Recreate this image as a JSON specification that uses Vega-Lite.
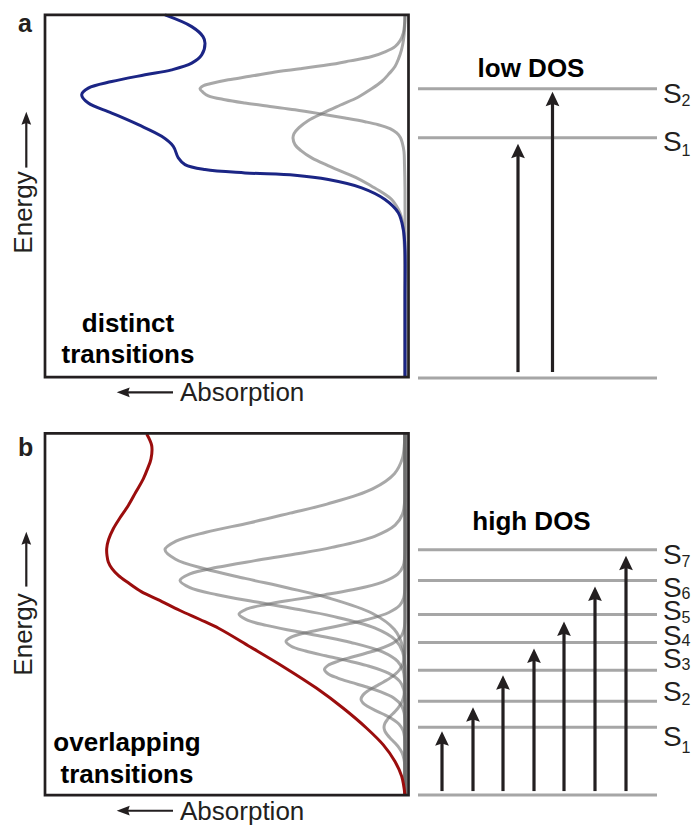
{
  "$schema": "https://vega.github.io/schema/vega-lite/v6.json",
  "width": 691,
  "height": 825,
  "autosize": {"type": "fit", "contains": "padding"},
  "padding": 0,
  "background": "white",
  "config": {"view": {"stroke": null}},
  "datasets": {
    "curves": [
      {"c":"sum_a","i":0,"x":165,"y":15},{"c":"sum_a","i":1,"x":191.7,"y":26.7},{"c":"sum_a","i":2,"x":203,"y":36.7},{"c":"sum_a","i":3,"x":205,"y":43.3},{"c":"sum_a","i":4,"x":201.7,"y":55},{"c":"sum_a","i":5,"x":191.7,"y":63.3},{"c":"sum_a","i":6,"x":171.7,"y":70},{"c":"sum_a","i":7,"x":145,"y":75},{"c":"sum_a","i":8,"x":111.7,"y":81.7},{"c":"sum_a","i":9,"x":88.3,"y":88.3},{"c":"sum_a","i":10,"x":81.7,"y":95},{"c":"sum_a","i":11,"x":88.3,"y":103.3},{"c":"sum_a","i":12,"x":111.7,"y":113.3},{"c":"sum_a","i":13,"x":138.3,"y":125},{"c":"sum_a","i":14,"x":161.7,"y":136.7},{"c":"sum_a","i":15,"x":173.3,"y":146.7},{"c":"sum_a","i":16,"x":178.3,"y":158.3},{"c":"sum_a","i":17,"x":185,"y":165},{"c":"sum_a","i":18,"x":205,"y":170},{"c":"sum_a","i":19,"x":245,"y":173.3},{"c":"sum_a","i":20,"x":295,"y":175.7},{"c":"sum_a","i":21,"x":328.3,"y":180},{"c":"sum_a","i":22,"x":361.7,"y":188.3},{"c":"sum_a","i":23,"x":385,"y":200},{"c":"sum_a","i":24,"x":398.3,"y":213.3},{"c":"sum_a","i":25,"x":403.3,"y":230},{"c":"sum_a","i":26,"x":405,"y":250},{"c":"sum_a","i":27,"x":405,"y":300},{"c":"sum_a","i":28,"x":405,"y":378},

      {"c":"a_S2","i":0,"x":405,"y":15},{"c":"a_S2","i":1,"x":404.5,"y":25},{"c":"a_S2","i":2,"x":403.3,"y":33.3},{"c":"a_S2","i":3,"x":400,"y":41},{"c":"a_S2","i":4,"x":395,"y":46.7},{"c":"a_S2","i":5,"x":385,"y":52},{"c":"a_S2","i":6,"x":371.7,"y":56.7},{"c":"a_S2","i":7,"x":350,"y":61},{"c":"a_S2","i":8,"x":328.3,"y":65},{"c":"a_S2","i":9,"x":300,"y":69},{"c":"a_S2","i":10,"x":278.3,"y":71.7},{"c":"a_S2","i":11,"x":250,"y":76.5},{"c":"a_S2","i":12,"x":228.3,"y":80},{"c":"a_S2","i":13,"x":210,"y":84},{"c":"a_S2","i":14,"x":203.3,"y":86},{"c":"a_S2","i":15,"x":200,"y":89},{"c":"a_S2","i":16,"x":203,"y":92.5},{"c":"a_S2","i":17,"x":208.3,"y":96},{"c":"a_S2","i":18,"x":225,"y":100},{"c":"a_S2","i":19,"x":245,"y":103.3},{"c":"a_S2","i":20,"x":270,"y":106.7},{"c":"a_S2","i":21,"x":295,"y":110},{"c":"a_S2","i":22,"x":320,"y":114},{"c":"a_S2","i":23,"x":345,"y":118.3},{"c":"a_S2","i":24,"x":365,"y":122},{"c":"a_S2","i":25,"x":378.3,"y":125},{"c":"a_S2","i":26,"x":390,"y":129},{"c":"a_S2","i":27,"x":396.7,"y":133.3},{"c":"a_S2","i":28,"x":400.5,"y":138},{"c":"a_S2","i":29,"x":402.3,"y":143.3},{"c":"a_S2","i":30,"x":404,"y":152},{"c":"a_S2","i":31,"x":404.5,"y":165},{"c":"a_S2","i":32,"x":405,"y":190},{"c":"a_S2","i":33,"x":405,"y":378},

      {"c":"a_S1","i":0,"x":405,"y":15},{"c":"a_S1","i":1,"x":404.6,"y":28},{"c":"a_S1","i":2,"x":403.5,"y":40},{"c":"a_S1","i":3,"x":401.5,"y":50},{"c":"a_S1","i":4,"x":398.5,"y":59},{"c":"a_S1","i":5,"x":395,"y":66.7},{"c":"a_S1","i":6,"x":389,"y":74},{"c":"a_S1","i":7,"x":381.7,"y":81.7},{"c":"a_S1","i":8,"x":370,"y":90},{"c":"a_S1","i":9,"x":358,"y":97.5},{"c":"a_S1","i":10,"x":340,"y":105.5},{"c":"a_S1","i":11,"x":323,"y":113.3},{"c":"a_S1","i":12,"x":308,"y":121},{"c":"a_S1","i":13,"x":299,"y":128},{"c":"a_S1","i":14,"x":294,"y":134},{"c":"a_S1","i":15,"x":293,"y":138.5},{"c":"a_S1","i":16,"x":295,"y":145},{"c":"a_S1","i":17,"x":301,"y":151},{"c":"a_S1","i":18,"x":311.7,"y":158.3},{"c":"a_S1","i":19,"x":328,"y":166},{"c":"a_S1","i":20,"x":345,"y":173.3},{"c":"a_S1","i":21,"x":360,"y":180},{"c":"a_S1","i":22,"x":371.7,"y":186.7},{"c":"a_S1","i":23,"x":383,"y":193.5},{"c":"a_S1","i":24,"x":391.7,"y":200},{"c":"a_S1","i":25,"x":396.5,"y":206.5},{"c":"a_S1","i":26,"x":400,"y":213.3},{"c":"a_S1","i":27,"x":402.2,"y":221},{"c":"a_S1","i":28,"x":403.3,"y":230},{"c":"a_S1","i":29,"x":404.3,"y":245},{"c":"a_S1","i":30,"x":404.8,"y":265},{"c":"a_S1","i":31,"x":405,"y":300},{"c":"a_S1","i":32,"x":405,"y":378},

      {"c":"sum_b","i":0,"x":146.7,"y":435},{"c":"sum_b","i":1,"x":151.7,"y":446.7},{"c":"sum_b","i":2,"x":151,"y":460},{"c":"sum_b","i":3,"x":147.5,"y":470},{"c":"sum_b","i":4,"x":143.3,"y":480},{"c":"sum_b","i":5,"x":136,"y":493},{"c":"sum_b","i":6,"x":128.3,"y":506.7},{"c":"sum_b","i":7,"x":120,"y":519},{"c":"sum_b","i":8,"x":113.3,"y":530},{"c":"sum_b","i":9,"x":108.5,"y":541},{"c":"sum_b","i":10,"x":106.7,"y":550},{"c":"sum_b","i":11,"x":107,"y":557},{"c":"sum_b","i":12,"x":108.3,"y":563.3},{"c":"sum_b","i":13,"x":112,"y":570},{"c":"sum_b","i":14,"x":118.3,"y":576.7},{"c":"sum_b","i":15,"x":128,"y":584},{"c":"sum_b","i":16,"x":141.7,"y":593.3},{"c":"sum_b","i":17,"x":158,"y":601},{"c":"sum_b","i":18,"x":180,"y":612},{"c":"sum_b","i":19,"x":200,"y":621},{"c":"sum_b","i":20,"x":219,"y":630},{"c":"sum_b","i":21,"x":250,"y":648.3},{"c":"sum_b","i":22,"x":283.3,"y":668.3},{"c":"sum_b","i":23,"x":316.7,"y":690},{"c":"sum_b","i":24,"x":343.3,"y":710},{"c":"sum_b","i":25,"x":366.7,"y":730},{"c":"sum_b","i":26,"x":383.3,"y":746.7},{"c":"sum_b","i":27,"x":395,"y":763.3},{"c":"sum_b","i":28,"x":401.7,"y":778.3},{"c":"sum_b","i":29,"x":405,"y":797},

      {"c":"b_S7","i":0,"x":405,"y":435},{"c":"b_S7","i":1,"x":404.8,"y":440},{"c":"b_S7","i":2,"x":404.5,"y":444.3},{"c":"b_S7","i":3,"x":402.4,"y":459.5},{"c":"b_S7","i":4,"x":394.4,"y":474.8},{"c":"b_S7","i":5,"x":372.6,"y":490},{"c":"b_S7","i":6,"x":327,"y":505.3},{"c":"b_S7","i":7,"x":290,"y":514.4},{"c":"b_S7","i":8,"x":250,"y":524},{"c":"b_S7","i":9,"x":206,"y":533.5},{"c":"b_S7","i":10,"x":176,"y":542.5},{"c":"b_S7","i":11,"x":165,"y":551},{"c":"b_S7","i":12,"x":175.6,"y":560.6},{"c":"b_S7","i":13,"x":204.6,"y":570.2},{"c":"b_S7","i":14,"x":245,"y":579.8},{"c":"b_S7","i":15,"x":288.1,"y":589.4},{"c":"b_S7","i":16,"x":327,"y":599},{"c":"b_S7","i":17,"x":372.6,"y":615},{"c":"b_S7","i":18,"x":394.4,"y":631},{"c":"b_S7","i":19,"x":402.4,"y":647},{"c":"b_S7","i":20,"x":404.5,"y":663},{"c":"b_S7","i":21,"x":405,"y":679},{"c":"b_S7","i":22,"x":405,"y":797},

      {"c":"b_S6","i":0,"x":405,"y":435},{"c":"b_S6","i":1,"x":405,"y":493},{"c":"b_S6","i":2,"x":404.5,"y":504.3},{"c":"b_S6","i":3,"x":402.5,"y":515.4},{"c":"b_S6","i":4,"x":395.1,"y":526.5},{"c":"b_S6","i":5,"x":374.6,"y":537.6},{"c":"b_S6","i":6,"x":331.9,"y":548.7},{"c":"b_S6","i":7,"x":295.4,"y":555.4},{"c":"b_S6","i":8,"x":255,"y":562},{"c":"b_S6","i":9,"x":217.1,"y":568.7},{"c":"b_S6","i":10,"x":189.9,"y":575.3},{"c":"b_S6","i":11,"x":180,"y":582},{"c":"b_S6","i":12,"x":189.9,"y":589.1},{"c":"b_S6","i":13,"x":217.1,"y":596.2},{"c":"b_S6","i":14,"x":255,"y":603.3},{"c":"b_S6","i":15,"x":295.4,"y":610.4},{"c":"b_S6","i":16,"x":331.9,"y":617.6},{"c":"b_S6","i":17,"x":374.6,"y":629.4},{"c":"b_S6","i":18,"x":395.1,"y":641.3},{"c":"b_S6","i":19,"x":402.5,"y":653.1},{"c":"b_S6","i":20,"x":404.5,"y":665},{"c":"b_S6","i":21,"x":405,"y":677},{"c":"b_S6","i":22,"x":405,"y":797},

      {"c":"b_S5","i":0,"x":405,"y":435},{"c":"b_S5","i":1,"x":405,"y":551.5},{"c":"b_S5","i":2,"x":404.6,"y":559.5},{"c":"b_S5","i":3,"x":403.2,"y":567.5},{"c":"b_S5","i":4,"x":397.7,"y":575.5},{"c":"b_S5","i":5,"x":382.6,"y":583.5},{"c":"b_S5","i":6,"x":351,"y":591.5},{"c":"b_S5","i":7,"x":324.2,"y":596.3},{"c":"b_S5","i":8,"x":294.3,"y":601.1},{"c":"b_S5","i":9,"x":266.4,"y":605.9},{"c":"b_S5","i":10,"x":246.3,"y":610.7},{"c":"b_S5","i":11,"x":239,"y":615.5},{"c":"b_S5","i":12,"x":246.3,"y":621.2},{"c":"b_S5","i":13,"x":266.4,"y":626.9},{"c":"b_S5","i":14,"x":294.3,"y":632.6},{"c":"b_S5","i":15,"x":324.2,"y":638.3},{"c":"b_S5","i":16,"x":351,"y":644},{"c":"b_S5","i":17,"x":382.6,"y":653.5},{"c":"b_S5","i":18,"x":397.7,"y":663},{"c":"b_S5","i":19,"x":403.2,"y":672.5},{"c":"b_S5","i":20,"x":404.6,"y":682},{"c":"b_S5","i":21,"x":405,"y":691.5},{"c":"b_S5","i":22,"x":405,"y":797},

      {"c":"b_S4","i":0,"x":405,"y":435},{"c":"b_S4","i":1,"x":405,"y":585},{"c":"b_S4","i":2,"x":404.7,"y":592.3},{"c":"b_S4","i":3,"x":403.7,"y":599.5},{"c":"b_S4","i":4,"x":399.8,"y":606.8},{"c":"b_S4","i":5,"x":388.9,"y":614},{"c":"b_S4","i":6,"x":366.3,"y":621.3},{"c":"b_S4","i":7,"x":347,"y":625.6},{"c":"b_S4","i":8,"x":325.6,"y":630},{"c":"b_S4","i":9,"x":305.6,"y":634.3},{"c":"b_S4","i":10,"x":291.2,"y":638.7},{"c":"b_S4","i":11,"x":286,"y":643},{"c":"b_S4","i":12,"x":291.2,"y":647.8},{"c":"b_S4","i":13,"x":305.6,"y":652.6},{"c":"b_S4","i":14,"x":325.6,"y":657.4},{"c":"b_S4","i":15,"x":347,"y":662.2},{"c":"b_S4","i":16,"x":366.3,"y":667},{"c":"b_S4","i":17,"x":388.9,"y":675},{"c":"b_S4","i":18,"x":399.8,"y":683},{"c":"b_S4","i":19,"x":403.7,"y":691},{"c":"b_S4","i":20,"x":404.7,"y":699},{"c":"b_S4","i":21,"x":405,"y":707},{"c":"b_S4","i":22,"x":405,"y":797},

      {"c":"b_S3","i":0,"x":405,"y":435},{"c":"b_S3","i":1,"x":405,"y":617},{"c":"b_S3","i":2,"x":404.8,"y":623.8},{"c":"b_S3","i":3,"x":404.1,"y":630.5},{"c":"b_S3","i":4,"x":401.5,"y":637.3},{"c":"b_S3","i":5,"x":394.1,"y":644},{"c":"b_S3","i":6,"x":378.8,"y":650.8},{"c":"b_S3","i":7,"x":365.8,"y":654.8},{"c":"b_S3","i":8,"x":351.3,"y":658.9},{"c":"b_S3","i":9,"x":337.8,"y":662.9},{"c":"b_S3","i":10,"x":328,"y":667},{"c":"b_S3","i":11,"x":324.5,"y":671},{"c":"b_S3","i":12,"x":328,"y":675.4},{"c":"b_S3","i":13,"x":337.8,"y":679.7},{"c":"b_S3","i":14,"x":351.3,"y":684.1},{"c":"b_S3","i":15,"x":365.8,"y":688.4},{"c":"b_S3","i":16,"x":378.8,"y":692.8},{"c":"b_S3","i":17,"x":394.1,"y":700},{"c":"b_S3","i":18,"x":401.5,"y":707.3},{"c":"b_S3","i":19,"x":404.1,"y":714.5},{"c":"b_S3","i":20,"x":404.8,"y":721.8},{"c":"b_S3","i":21,"x":405,"y":729},{"c":"b_S3","i":22,"x":405,"y":797},

      {"c":"b_S2","i":0,"x":405,"y":435},{"c":"b_S2","i":1,"x":405,"y":643},{"c":"b_S2","i":2,"x":404.9,"y":650.3},{"c":"b_S2","i":3,"x":404.5,"y":657.5},{"c":"b_S2","i":4,"x":403.1,"y":664.8},{"c":"b_S2","i":5,"x":399.1,"y":672},{"c":"b_S2","i":6,"x":390.7,"y":679.3},{"c":"b_S2","i":7,"x":383.6,"y":683.6},{"c":"b_S2","i":8,"x":375.7,"y":688},{"c":"b_S2","i":9,"x":368.3,"y":692.3},{"c":"b_S2","i":10,"x":363,"y":696.7},{"c":"b_S2","i":11,"x":361,"y":701},{"c":"b_S2","i":12,"x":363,"y":704.8},{"c":"b_S2","i":13,"x":368.3,"y":708.5},{"c":"b_S2","i":14,"x":375.7,"y":712.3},{"c":"b_S2","i":15,"x":383.6,"y":716},{"c":"b_S2","i":16,"x":390.7,"y":719.8},{"c":"b_S2","i":17,"x":399.1,"y":726},{"c":"b_S2","i":18,"x":403.1,"y":732.3},{"c":"b_S2","i":19,"x":404.5,"y":738.5},{"c":"b_S2","i":20,"x":404.9,"y":744.8},{"c":"b_S2","i":21,"x":405,"y":751},{"c":"b_S2","i":22,"x":405,"y":797},

      {"c":"b_S1","i":0,"x":405,"y":435},{"c":"b_S1","i":1,"x":405,"y":677},{"c":"b_S1","i":2,"x":404.8,"y":690},{"c":"b_S1","i":3,"x":404.1,"y":696.5},{"c":"b_S1","i":4,"x":402.2,"y":703},{"c":"b_S1","i":5,"x":398.2,"y":709.5},{"c":"b_S1","i":6,"x":394.8,"y":713.4},{"c":"b_S1","i":7,"x":391,"y":717.3},{"c":"b_S1","i":8,"x":387.5,"y":721.2},{"c":"b_S1","i":9,"x":384.9,"y":725.1},{"c":"b_S1","i":10,"x":384,"y":729},{"c":"b_S1","i":11,"x":384.9,"y":732.9},{"c":"b_S1","i":12,"x":387.5,"y":736.8},{"c":"b_S1","i":13,"x":391,"y":740.7},{"c":"b_S1","i":14,"x":394.8,"y":744.6},{"c":"b_S1","i":15,"x":398.2,"y":748.5},{"c":"b_S1","i":16,"x":402.2,"y":755},{"c":"b_S1","i":17,"x":404.1,"y":761.5},{"c":"b_S1","i":18,"x":404.8,"y":768},{"c":"b_S1","i":19,"x":405,"y":781},{"c":"b_S1","i":20,"x":405,"y":797}
    ],
    "levels": [
      {"state":"a_S2","x":418,"x2":657,"y":89},
      {"state":"a_S1","x":418,"x2":657,"y":138},
      {"state":"a_S0","x":418,"x2":657,"y":379},
      {"state":"b_S7","x":418,"x2":657,"y":551},
      {"state":"b_S6","x":418,"x2":657,"y":582},
      {"state":"b_S5","x":418,"x2":657,"y":616},
      {"state":"b_S4","x":418,"x2":657,"y":644},
      {"state":"b_S3","x":418,"x2":657,"y":672},
      {"state":"b_S2","x":418,"x2":657,"y":703},
      {"state":"b_S1","x":418,"x2":657,"y":729},
      {"state":"b_S0","x":418,"x2":657,"y":797}
    ],
    "transitions": [
      {"to":"a_S1","x":518,"y0":373,"y1":155,"tip":144},
      {"to":"a_S2","x":552.5,"y0":373,"y1":103,"tip":92},
      {"to":"b_S1","x":442,"y0":793,"y1":744,"tip":733},
      {"to":"b_S2","x":473,"y0":793,"y1":720,"tip":709},
      {"to":"b_S3","x":503,"y0":793,"y1":688,"tip":677},
      {"to":"b_S4","x":534,"y0":793,"y1":661,"tip":650},
      {"to":"b_S5","x":564,"y0":793,"y1":634,"tip":623},
      {"to":"b_S6","x":595,"y0":793,"y1":599,"tip":588},
      {"to":"b_S7","x":626,"y0":793,"y1":568,"tip":557}
    ],
    "axisArrows": [
      {"dir":"up","x":26.3,"x2":26.3,"y":168,"y2":121,"tx":26.3,"ty":112},
      {"dir":"up","x":26.3,"x2":26.3,"y":588,"y2":542,"tx":26.3,"ty":533},
      {"dir":"left","x":173,"x2":126,"y":393.3,"y2":393.3,"tx":116.7,"ty":393.3},
      {"dir":"left","x":173,"x2":126,"y":812.7,"y2":812.7,"tx":116.7,"ty":812.7}
    ],
    "labels": [
      {"t":"a","x":18,"y":31.7,"k":"panel"},
      {"t":"b","x":18,"y":456.7,"k":"panel"},
      {"t":"Energy","x":32,"y":213,"k":"axisv"},
      {"t":"Energy","x":32,"y":636,"k":"axisv"},
      {"t":"Absorption","x":180,"y":401.5,"k":"axish"},
      {"t":"Absorption","x":180,"y":821.5,"k":"axish"},
      {"t":"distinct","x":128,"y":333.3,"k":"note"},
      {"t":"transitions","x":128,"y":364.3,"k":"note"},
      {"t":"overlapping","x":127,"y":753.3,"k":"note"},
      {"t":"transitions","x":127,"y":785,"k":"note"},
      {"t":"low DOS","x":531,"y":76.7,"k":"note"},
      {"t":"high DOS","x":531.5,"y":531.7,"k":"note"},
      {"t":"S","x":663,"y":103,"k":"state"},
      {"t":"S","x":663,"y":151.5,"k":"state"},
      {"t":"S","x":663,"y":565,"k":"state"},
      {"t":"S","x":663,"y":598,"k":"state"},
      {"t":"S","x":663,"y":622,"k":"state"},
      {"t":"S","x":663,"y":646.5,"k":"state"},
      {"t":"S","x":663,"y":670,"k":"state"},
      {"t":"S","x":663,"y":703,"k":"state"},
      {"t":"S","x":663,"y":748,"k":"state"},
      {"t":"2","x":681.5,"y":106.7,"k":"sub"},
      {"t":"1","x":681.5,"y":156.7,"k":"sub"},
      {"t":"7","x":681.5,"y":568,"k":"sub"},
      {"t":"6","x":681.5,"y":600,"k":"sub"},
      {"t":"5","x":681.5,"y":625,"k":"sub"},
      {"t":"4","x":681.5,"y":648,"k":"sub"},
      {"t":"3","x":681.5,"y":671.7,"k":"sub"},
      {"t":"2","x":681.5,"y":706.7,"k":"sub"},
      {"t":"1","x":681.5,"y":755,"k":"sub"}
    ],
    "frames": [
      {"panel":"a","x":45,"x2":408.5,"y":15,"y2":378},
      {"panel":"b","x":45,"x2":408.5,"y":434.5,"y2":797}
    ]
  },
  "layer": [
    {
      "data": {"name": "curves"},
      "transform": [{"filter": "datum.c != 'sum_a' && datum.c != 'sum_b'"}],
      "mark": {"type": "line", "interpolate": "catmull-rom", "stroke": "#6e6e6e", "strokeOpacity": 0.6, "strokeWidth": 3},
      "encoding": {
        "x": {"field": "x", "type": "quantitative", "scale": {"domain": [0, 691], "nice": false, "zero": false}, "axis": null},
        "y": {"field": "y", "type": "quantitative", "scale": {"domain": [0, 825], "reverse": true, "nice": false, "zero": false}, "axis": null},
        "detail": {"field": "c"},
        "order": {"field": "i", "type": "quantitative"}
      }
    },
    {
      "data": {"name": "curves"},
      "transform": [{"filter": "datum.c == 'sum_a' || datum.c == 'sum_b'"}],
      "mark": {"type": "line", "interpolate": "catmull-rom", "strokeWidth": 3},
      "encoding": {
        "x": {"field": "x", "type": "quantitative", "scale": {"domain": [0, 691], "nice": false, "zero": false}, "axis": null},
        "y": {"field": "y", "type": "quantitative", "scale": {"domain": [0, 825], "reverse": true, "nice": false, "zero": false}, "axis": null},
        "color": {"field": "c", "type": "nominal", "scale": {"domain": ["sum_a", "sum_b"], "range": ["#1b2585", "#9b0d0d"]}, "legend": null},
        "order": {"field": "i", "type": "quantitative"}
      }
    },
    {
      "data": {"name": "levels"},
      "mark": {"type": "rule", "color": "#a6a6a6", "strokeWidth": 3},
      "encoding": {
        "x": {"field": "x", "type": "quantitative", "scale": {"domain": [0, 691], "nice": false, "zero": false}, "axis": null},
        "x2": {"field": "x2"},
        "y": {"field": "y", "type": "quantitative", "scale": {"domain": [0, 825], "reverse": true, "nice": false, "zero": false}, "axis": null}
      }
    },
    {
      "data": {"name": "transitions"},
      "mark": {"type": "rule", "color": "#231f20", "strokeWidth": 3.2},
      "encoding": {
        "x": {"field": "x", "type": "quantitative", "scale": {"domain": [0, 691], "nice": false, "zero": false}, "axis": null},
        "y": {"field": "y0", "type": "quantitative", "scale": {"domain": [0, 825], "reverse": true, "nice": false, "zero": false}, "axis": null},
        "y2": {"field": "y1"}
      }
    },
    {
      "data": {"name": "transitions"},
      "mark": {"type": "point", "shape": "M0,0L-0.95,2L0,1.7L0.95,2Z", "size": 210, "filled": true, "color": "#231f20", "opacity": 1, "strokeWidth": 0},
      "encoding": {
        "x": {"field": "x", "type": "quantitative", "scale": {"domain": [0, 691], "nice": false, "zero": false}, "axis": null},
        "y": {"field": "tip", "type": "quantitative", "scale": {"domain": [0, 825], "reverse": true, "nice": false, "zero": false}, "axis": null}
      }
    },
    {
      "data": {"name": "axisArrows"},
      "mark": {"type": "rule", "color": "#231f20", "strokeWidth": 2.2},
      "encoding": {
        "x": {"field": "x", "type": "quantitative", "scale": {"domain": [0, 691], "nice": false, "zero": false}, "axis": null},
        "x2": {"field": "x2"},
        "y": {"field": "y", "type": "quantitative", "scale": {"domain": [0, 825], "reverse": true, "nice": false, "zero": false}, "axis": null},
        "y2": {"field": "y2"}
      }
    },
    {
      "data": {"name": "axisArrows"},
      "transform": [{"filter": "datum.dir == 'up'"}],
      "mark": {"type": "point", "shape": "M0,0L-0.75,2L0,1.75L0.75,2Z", "size": 169, "filled": true, "color": "#231f20", "opacity": 1, "strokeWidth": 0},
      "encoding": {
        "x": {"field": "tx", "type": "quantitative", "scale": {"domain": [0, 691], "nice": false, "zero": false}, "axis": null},
        "y": {"field": "ty", "type": "quantitative", "scale": {"domain": [0, 825], "reverse": true, "nice": false, "zero": false}, "axis": null}
      }
    },
    {
      "data": {"name": "axisArrows"},
      "transform": [{"filter": "datum.dir == 'left'"}],
      "mark": {"type": "point", "shape": "M0,0L2,-0.75L1.75,0L2,0.75Z", "size": 169, "filled": true, "color": "#231f20", "opacity": 1, "strokeWidth": 0},
      "encoding": {
        "x": {"field": "tx", "type": "quantitative", "scale": {"domain": [0, 691], "nice": false, "zero": false}, "axis": null},
        "y": {"field": "ty", "type": "quantitative", "scale": {"domain": [0, 825], "reverse": true, "nice": false, "zero": false}, "axis": null}
      }
    },
    {
      "data": {"name": "labels"},
      "transform": [{"filter": "datum.k == 'panel'"}],
      "mark": {"type": "text", "font": "Liberation Sans", "fontWeight": "bold", "fontSize": 25, "align": "left", "baseline": "alphabetic", "color": "#231f20"},
      "encoding": {
        "x": {"field": "x", "type": "quantitative", "scale": {"domain": [0, 691], "nice": false, "zero": false}, "axis": null},
        "y": {"field": "y", "type": "quantitative", "scale": {"domain": [0, 825], "reverse": true, "nice": false, "zero": false}, "axis": null},
        "text": {"field": "t"}
      }
    },
    {
      "data": {"name": "labels"},
      "transform": [{"filter": "datum.k == 'axisv'"}],
      "mark": {"type": "text", "font": "Liberation Sans", "fontSize": 26, "angle": 270, "align": "center", "baseline": "alphabetic", "color": "#231f20"},
      "encoding": {
        "x": {"field": "x", "type": "quantitative", "scale": {"domain": [0, 691], "nice": false, "zero": false}, "axis": null},
        "y": {"field": "y", "type": "quantitative", "scale": {"domain": [0, 825], "reverse": true, "nice": false, "zero": false}, "axis": null},
        "text": {"field": "t"}
      }
    },
    {
      "data": {"name": "labels"},
      "transform": [{"filter": "datum.k == 'axish'"}],
      "mark": {"type": "text", "font": "Liberation Sans", "fontSize": 26, "align": "left", "baseline": "alphabetic", "color": "#231f20"},
      "encoding": {
        "x": {"field": "x", "type": "quantitative", "scale": {"domain": [0, 691], "nice": false, "zero": false}, "axis": null},
        "y": {"field": "y", "type": "quantitative", "scale": {"domain": [0, 825], "reverse": true, "nice": false, "zero": false}, "axis": null},
        "text": {"field": "t"}
      }
    },
    {
      "data": {"name": "labels"},
      "transform": [{"filter": "datum.k == 'note'"}],
      "mark": {"type": "text", "font": "Liberation Sans", "fontWeight": "bold", "fontSize": 26, "align": "center", "baseline": "alphabetic", "color": "#000000"},
      "encoding": {
        "x": {"field": "x", "type": "quantitative", "scale": {"domain": [0, 691], "nice": false, "zero": false}, "axis": null},
        "y": {"field": "y", "type": "quantitative", "scale": {"domain": [0, 825], "reverse": true, "nice": false, "zero": false}, "axis": null},
        "text": {"field": "t"}
      }
    },
    {
      "data": {"name": "labels"},
      "transform": [{"filter": "datum.k == 'state'"}],
      "mark": {"type": "text", "font": "Liberation Sans", "fontSize": 28, "align": "left", "baseline": "alphabetic", "color": "#231f20"},
      "encoding": {
        "x": {"field": "x", "type": "quantitative", "scale": {"domain": [0, 691], "nice": false, "zero": false}, "axis": null},
        "y": {"field": "y", "type": "quantitative", "scale": {"domain": [0, 825], "reverse": true, "nice": false, "zero": false}, "axis": null},
        "text": {"field": "t"}
      }
    },
    {
      "data": {"name": "labels"},
      "transform": [{"filter": "datum.k == 'sub'"}],
      "mark": {"type": "text", "font": "Liberation Sans", "fontSize": 16, "align": "left", "baseline": "alphabetic", "color": "#231f20"},
      "encoding": {
        "x": {"field": "x", "type": "quantitative", "scale": {"domain": [0, 691], "nice": false, "zero": false}, "axis": null},
        "y": {"field": "y", "type": "quantitative", "scale": {"domain": [0, 825], "reverse": true, "nice": false, "zero": false}, "axis": null},
        "text": {"field": "t"}
      }
    },
    {
      "data": {"name": "frames"},
      "mark": {"type": "rect", "fillOpacity": 0, "stroke": "#231f20", "strokeWidth": 2.7},
      "encoding": {
        "x": {"field": "x", "type": "quantitative", "scale": {"domain": [0, 691], "nice": false, "zero": false}, "axis": null},
        "x2": {"field": "x2"},
        "y": {"field": "y", "type": "quantitative", "scale": {"domain": [0, 825], "reverse": true, "nice": false, "zero": false}, "axis": null},
        "y2": {"field": "y2"}
      }
    }
  ]
}
